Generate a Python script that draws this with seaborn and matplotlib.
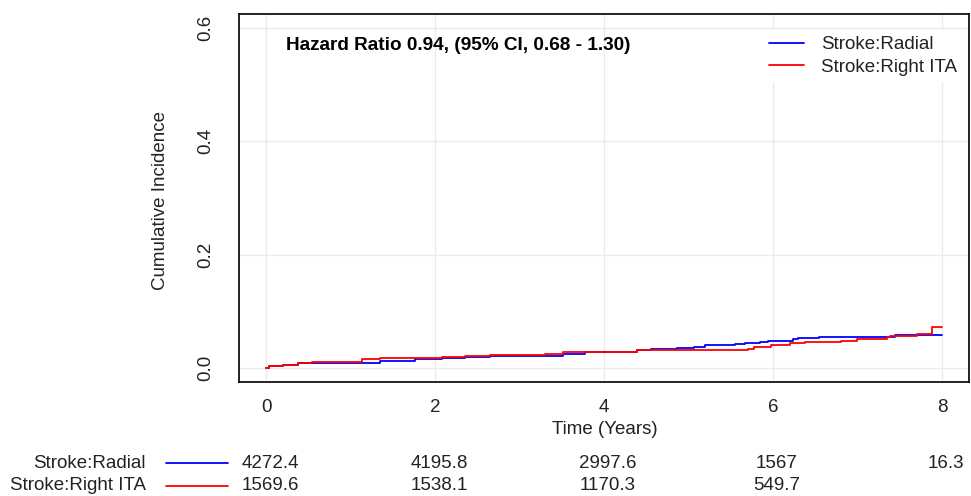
import numpy as np
import pandas as pd
import matplotlib
matplotlib.use("Agg")
import matplotlib.pyplot as plt
import matplotlib.transforms as mtransforms
from matplotlib.lines import Line2D
import seaborn as sns

# ---------------- data ----------------
radial_time = [0, 0.03, 0.2, 0.375, 0.54, 1.35, 1.76, 2.08, 2.355, 2.65, 3.52, 3.78, 4.17,
               4.39, 4.56, 4.86, 5.06, 5.2, 5.55, 5.67, 5.85, 5.94, 6.24, 6.3, 6.54, 7.44, 8.0]
radial_ci = [0.0, 0.004, 0.0065, 0.0088, 0.010, 0.0135, 0.0163, 0.0175, 0.0193, 0.0216, 0.0251,
             0.028, 0.029, 0.0316, 0.0339, 0.0363, 0.038, 0.041, 0.0433, 0.045, 0.0468, 0.0485,
             0.0509, 0.053, 0.055, 0.058, 0.058]

rita_time = [0, 0.03, 0.2, 0.375, 0.54, 1.13, 1.35, 2.08, 2.355, 2.65, 3.30, 3.52, 4.39, 5.71,
             5.77, 5.98, 6.06, 6.2, 6.38, 6.81, 6.99, 7.35, 7.38, 7.7, 7.88, 8.0]
rita_ci = [0.0, 0.0047, 0.0065, 0.0088, 0.011, 0.017, 0.0187, 0.0205, 0.0222, 0.0234, 0.0257,
           0.028, 0.0316, 0.0333, 0.038, 0.041, 0.042, 0.0439, 0.046, 0.048, 0.0509, 0.0544,
           0.0567, 0.0614, 0.072, 0.072]

groups = ["Stroke:Radial", "Stroke:Right ITA"]
colors = ["#0000FF", "#FF0000"]

risk_times = [0, 2, 4, 6, 8]
risk_radial = ["4272.4", "4195.8", "2997.6", "1567", "16.3"]
risk_rita = ["1569.6", "1538.1", "1170.3", "549.7", ""]

x_ticks = [0, 2, 4, 6, 8]
y_ticks = [0.0, 0.2, 0.4, 0.6]
y_tick_labels = ["0.0", "0.2", "0.4", "0.6"]
hr_text = "Hazard Ratio 0.94, (95% CI, 0.68 - 1.30)"

# ---------------- style ----------------
sns.set_style("white")
plt.rcParams["font.family"] = ["Liberation Sans", "DejaVu Sans"]
FS = 13.5

W, H = 971, 496
fig = plt.figure(figsize=(W / 100, H / 100), dpi=100)
ax = fig.add_axes([239 / W, 1 - 382 / H, (969 - 239) / W, (382 - 14) / H])

df = pd.DataFrame({
    "time": radial_time + rita_time,
    "ci": radial_ci + rita_ci,
    "group": [groups[0]] * len(radial_time) + [groups[1]] * len(rita_time),
})
sns.lineplot(data=df, x="time", y="ci", hue="group", palette=dict(zip(groups, colors)),
             estimator=None, drawstyle="steps-post", lw=1.3, legend=False, ax=ax, zorder=3)

ax.set_xlim(-0.32, 8.32)
ax.set_ylim(-0.024, 0.624)
ax.set_xticks(x_ticks)
ax.set_xticklabels([str(t) for t in x_ticks], fontsize=FS)
ax.set_yticks(y_ticks)
ax.set_yticklabels(y_tick_labels, fontsize=FS, rotation=90, va="center")
ax.tick_params(axis="both", direction="out", length=6.5, width=1.2, color="#444444",
               labelcolor="#222222")
ax.tick_params(axis="x", pad=6)
ax.tick_params(axis="y", pad=11)
ax.grid(True, color="#EBEBEB", lw=1.0, zorder=0)
ax.set_axisbelow(True)
for s in ax.spines.values():
    s.set_color("#111111")
    s.set_linewidth(1.3)
ax.set_xlabel("")
ax.set_ylabel("")

fig.text(160 / W, 1 - 200 / H, "Cumulative Incidence", rotation=90, ha="center", va="center",
         fontsize=FS, color="#222222")
fig.text(605 / W, 1 - 430 / H, "Time (Years)", ha="center", va="center", fontsize=FS,
         color="#222222")

fig.text(286 / W, 1 - 46 / H, hr_text, ha="left", va="center", fontsize=13.7,
         fontweight="bold", color="black")

handles = [Line2D([0], [0], color=c, lw=1.3) for c in colors]
leg = ax.legend(handles, groups, loc="upper right", bbox_to_anchor=(972 / W, 1 - 21 / H),
                bbox_transform=fig.transFigure, frameon=True, fancybox=False,
                edgecolor="white", facecolor="white", framealpha=1, fontsize=FS,
                handlelength=1.9, handletextpad=0.9, labelspacing=0.29, borderpad=0.3)
for t in leg.get_texts():
    t.set_color("#222222")

# numbers-at-risk table
rows_y = [463, 486]
row_vals = [risk_radial, risk_rita]
trans = mtransforms.blended_transform_factory(ax.transData, fig.transFigure)
trans = mtransforms.offset_copy(trans, fig=fig, x=4, y=0, units="dots")
for gi, (g, c, yv, vals) in enumerate(zip(groups, colors, rows_y, row_vals)):
    fy = 1 - yv / H
    fig.text(146 / W, fy, g, ha="right", va="center", fontsize=FS, color="#222222")
    fig.add_artist(Line2D([166 / W, 228 / W], [fy, fy], color=c, lw=1.3,
                          transform=fig.transFigure))
    for t, v in zip(risk_times, vals):
        if v:
            fig.text(t, fy, v, transform=trans, ha="center", va="center", fontsize=FS,
                     color="#222222")

fig.savefig("out.png", dpi=100)
